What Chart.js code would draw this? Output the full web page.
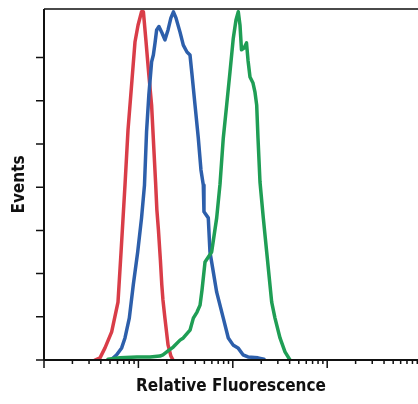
<!DOCTYPE html>
<html lang="en">
<head>
  <meta charset="UTF-8" />
  <title>Relative Fluorescence</title>
  <style>
    html, body { margin: 0; padding: 0; background: #fff; }
    #wrap { position: relative; width: 418px; height: 404px; }
  </style>
</head>
<body>
  <div id="wrap"><canvas id="histChart"></canvas></div>

  <script src="https://cdn.jsdelivr.net/npm/chart.js"></script>
  <script>
    // fluorescence (log axis) and event counts
    const redX = [3.47, 3.92, 4.43, 5.21, 6.08, 6.55, 7.21, 7.76, 8.55, 9.20, 9.91, 10.8, 11.3, 12.0, 12.9, 13.8, 14.6, 15.2, 15.7, 16.3, 17.1, 17.7, 18.2, 19.1, 20.6, 22.1, 23.3];
    const redY = [0, 0.05, 0.28, 0.65, 1.34, 2.50, 4.05, 5.32, 6.48, 7.36, 7.75, 8.06, 8.06, 7.41, 6.60, 5.90, 4.86, 4.12, 3.47, 3.01, 2.31, 1.74, 1.39, 0.97, 0.35, 0.09, 0];

    const blueX = [5.25, 5.89, 6.65, 7.21, 8.01, 8.83, 9.83, 10.8, 11.6, 12.2, 12.9, 13.8, 14.4, 15.0, 15.6, 16.5, 17.8, 19.1, 20.6, 22.1, 23.5, 25.0, 27.6, 29.9, 32.7, 35.2, 37.0, 39.8, 43.1, 46.0, 48.7, 49.5, 55.0, 57.3, 61.7, 67.5, 79.3, 89.6, 100.5, 113.5, 128.3, 144.9, 184.9, 214.1];
    const blueY = [0.02, 0.12, 0.28, 0.51, 0.97, 1.74, 2.50, 3.29, 4.05, 5.28, 6.13, 6.90, 7.06, 7.34, 7.64, 7.72, 7.57, 7.41, 7.64, 7.92, 8.06, 7.92, 7.59, 7.29, 7.13, 7.06, 6.60, 5.90, 5.14, 4.40, 4.05, 3.43, 3.29, 2.50, 2.08, 1.57, 0.97, 0.51, 0.35, 0.28, 0.12, 0.07, 0.05, 0.02];

    const greenX = [4.76, 6.38, 9.67, 13.3, 16.9, 18.2, 20.6, 23.4, 27.6, 29.9, 35.2, 38.2, 41.8, 45.0, 47.2, 50.8, 59.7, 67.5, 73.2, 79.3, 86.1, 93.4, 101.2, 108.1, 114.3, 119.2, 123.6, 131.5, 139.7, 144.9, 152.1, 163.7, 171.8, 179.1, 184.9, 194.1, 210.4, 228.6, 258.2, 279.9, 316.2, 357.3, 403.6];
    const greenY = [0.02, 0.05, 0.07, 0.07, 0.09, 0.12, 0.21, 0.30, 0.46, 0.51, 0.69, 0.97, 1.11, 1.27, 1.62, 2.27, 2.50, 3.29, 4.07, 5.14, 5.90, 6.67, 7.45, 7.87, 8.06, 7.75, 7.18, 7.22, 7.34, 6.94, 6.55, 6.41, 6.20, 5.90, 5.14, 4.12, 3.29, 2.50, 1.34, 0.97, 0.51, 0.19, 0];

    // axis ticks (no tick labels on this plot)
    const xDecades = [1, 10, 100, 1000];
    const xMinorSteps = [2, 3, 4, 5, 6, 7, 8, 9];
    const yTicks = [0, 1, 2, 3, 4, 5, 6, 7];

    const X_MIN = 1, X_MAX = 9160;
    const Y_MIN = 0, Y_MAX = 8.125;

    const FONT = "'Liberation Sans Narrow', 'DejaVu Sans Condensed', 'Arial Narrow', sans-serif";

    const toPoints = (xs, ys) => xs.map((x, i) => ({ x: x, y: ys[i] }));

    function histSet(label, xs, ys, color, order) {
      return {
        label: label,
        data: toPoints(xs, ys),
        borderColor: color,
        borderWidth: 3.5,
        borderJoinStyle: 'round',
        borderCapStyle: 'round',
        pointRadius: 0,
        tension: 0,
        fill: false,
        order: order
      };
    }

    // axis lines, frame and tick marks
    const axisFrame = {
      id: 'axisFrame',
      afterDatasetsDraw(chart) {
        const { ctx, chartArea: a, scales: { x, y } } = chart;
        ctx.save();

        // top frame line (grey)
        ctx.strokeStyle = '#4a4a4a';
        ctx.lineWidth = 2;
        ctx.beginPath();
        ctx.moveTo(a.left, a.top);
        ctx.lineTo(a.right, a.top);
        ctx.stroke();

        // x ticks
        ctx.strokeStyle = '#111';
        ctx.lineWidth = 1.5;
        ctx.beginPath();
        xDecades.forEach(d => {
          const px = x.getPixelForValue(d);
          ctx.moveTo(px, a.bottom);
          ctx.lineTo(px, a.bottom + 8);
          xMinorSteps.forEach(s => {
            const v = d * s;
            if (v > X_MAX) return;
            const mx = x.getPixelForValue(v);
            ctx.moveTo(mx, a.bottom);
            ctx.lineTo(mx, a.bottom + 4);
          });
        });
        // y ticks
        yTicks.forEach(t => {
          const py = y.getPixelForValue(t);
          ctx.moveTo(a.left - 8, py);
          ctx.lineTo(a.left, py);
        });
        ctx.stroke();

        // axis lines
        ctx.lineWidth = 2;
        ctx.beginPath();
        ctx.moveTo(a.left, a.top);
        ctx.lineTo(a.left, a.bottom);
        ctx.moveTo(a.left, a.bottom);
        ctx.lineTo(a.right, a.bottom);
        ctx.stroke();

        ctx.restore();
      }
    };

    new Chart(document.getElementById('histChart').getContext('2d'), {
      type: 'line',
      data: {
        datasets: [
          histSet('Green', greenX, greenY, '#1f9e55', 1),
          histSet('Blue', blueX, blueY, '#2d5fab', 2),
          histSet('Red', redX, redY, '#d93d48', 3)
        ]
      },
      options: {
        responsive: true,
        maintainAspectRatio: false,
        animation: false,
        layout: { padding: { top: 9, right: 0, left: 0, bottom: 0 } },
        plugins: {
          legend: { display: false },
          tooltip: { enabled: false }
        },
        scales: {
          x: {
            type: 'logarithmic',
            min: X_MIN,
            max: X_MAX,
            grid: { display: false },
            border: { display: false },
            ticks: { display: false },
            afterFit: scale => { scale.height = 44; },
            title: {
              display: true,
              text: 'Relative Fluorescence',
              color: '#111',
              font: { family: FONT, size: 17, weight: 'bold' },
              padding: { top: 0, bottom: 7 }
            }
          },
          y: {
            type: 'linear',
            min: Y_MIN,
            max: Y_MAX,
            grid: { display: false },
            border: { display: false },
            ticks: { display: false },
            afterFit: scale => { scale.width = 44; },
            title: {
              display: true,
              text: 'Events',
              color: '#111',
              font: { family: FONT, size: 17, weight: 'bold' },
              padding: { top: 9, bottom: 0 }
            }
          }
        }
      },
      plugins: [axisFrame]
    });
  </script>
</body>
</html>
